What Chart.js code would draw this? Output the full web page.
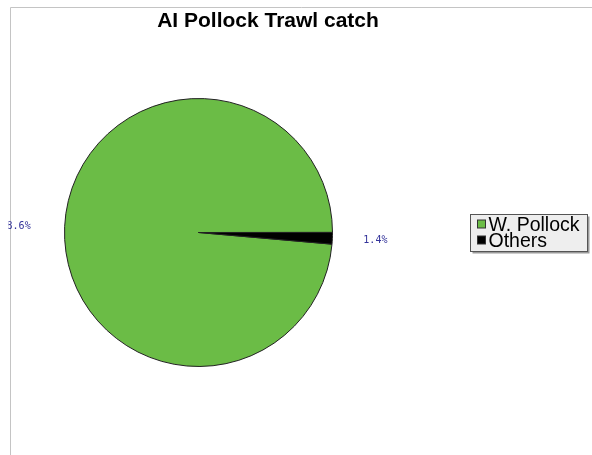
<!DOCTYPE html>
<html>
<head>
<meta charset="utf-8">
<script src="https://cdn.jsdelivr.net/npm/chart.js@4/dist/chart.umd.min.js"></script>
<style>
  html, body { margin: 0; padding: 0; background: #fff; }
  #wrap { width: 592px; height: 455px; }
</style>
</head>
<body>
<div id="wrap"><canvas id="catchPie" width="592" height="455"></canvas></div>
<script>
// catch split, percent
var species = ['W. Pollock', 'Others'];
var shares = [98.6, 1.4];
var sliceColors = ['#6bbc46', '#000000'];
var chartTitle = 'AI Pollock Trawl catch';

// frame lines, title, slice labels and the boxed legend
var decorations = {
    id: 'decorations',
    beforeDraw: function(chart) {
        var ctx = chart.ctx;
        ctx.save();
        ctx.fillStyle = '#ffffff';
        ctx.fillRect(0, 0, chart.width, chart.height);
        ctx.strokeStyle = '#c4c4c4';
        ctx.lineWidth = 1;
        ctx.beginPath();
        ctx.moveTo(10.5, chart.height);
        ctx.lineTo(10.5, 7.5);
        ctx.lineTo(chart.width, 7.5);
        ctx.stroke();

        ctx.fillStyle = '#000';
        ctx.font = 'bold 21px "Liberation Sans", Arial, sans-serif';
        ctx.textAlign = 'center';
        ctx.textBaseline = 'alphabetic';
        ctx.fillText(chartTitle, 268, 27);
        ctx.restore();
    },
    afterDraw: function(chart) {
        var ctx = chart.ctx;
        var meta = chart.getDatasetMeta(0);
        ctx.save();

        // percent labels outside the slices
        ctx.beginPath();
        ctx.rect(8.5, 0, chart.width, chart.height);
        ctx.clip();
        ctx.font = '10px "DejaVu Sans Mono", monospace';
        ctx.fillStyle = '#33339a';
        ctx.textBaseline = 'middle';
        meta.data.forEach(function(arc, i) {
            var mid = (arc.startAngle + arc.endAngle) / 2;
            var left = Math.cos(mid) < 0;
            var r = arc.outerRadius + (left ? 34 : 31);
            var x = arc.x + Math.cos(mid) * r;
            var y = arc.y + Math.sin(mid) * r;
            ctx.textAlign = left ? 'right' : 'left';
            ctx.fillText(shares[i].toFixed(1) + '%', x, y + 1);
        });
        ctx.restore();

        // legend box with drop shadow
        ctx.save();
        var bx = 470.5, by = 214.5, bw = 117, bh = 37;
        ctx.fillStyle = '#9a9a9a';
        ctx.fillRect(bx + 2, by + 2, bw, bh);
        ctx.fillStyle = '#eeeeee';
        ctx.fillRect(bx, by, bw, bh);
        ctx.strokeStyle = '#555555';
        ctx.lineWidth = 1;
        ctx.strokeRect(bx, by, bw, bh);
        ctx.font = '19.5px "Liberation Sans", Arial, sans-serif';
        ctx.textAlign = 'left';
        ctx.textBaseline = 'alphabetic';
        species.forEach(function(name, i) {
            var base = 231 + i * 16;
            ctx.fillStyle = sliceColors[i];
            ctx.fillRect(bx + 7, base - 11, 8, 8);
            ctx.strokeStyle = '#333';
            ctx.strokeRect(bx + 7, base - 11, 8, 8);
            ctx.fillStyle = '#000';
            ctx.fillText(name, bx + 18, base);
        });
        ctx.restore();
    }
};

var config = {
    type: 'pie',
    data: {
        labels: species,
        datasets: [{
            data: shares,
            backgroundColor: sliceColors,
            borderColor: '#222222',
            borderWidth: 1
        }]
    },
    options: {
        responsive: false,
        animation: false,
        rotation: 95,
        layout: {
            padding: { left: 64, right: 259, top: 98, bottom: 88 }
        },
        plugins: {
            legend: { display: false },
            title: { display: false },
            tooltip: { enabled: false }
        }
    },
    plugins: [decorations]
};

var pieChart = new Chart(document.getElementById('catchPie'), config);
</script>
</body>
</html>
